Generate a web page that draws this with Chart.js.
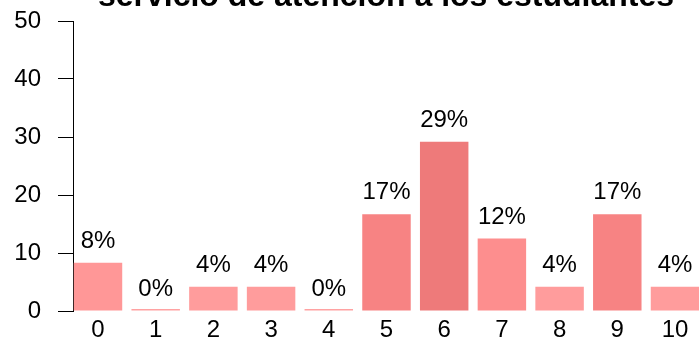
<!DOCTYPE html>
<html lang="es">
<head>
  <meta charset="UTF-8">
  <title>Satisfacción - servicio de atención a los estudiantes</title>
  <script src="https://cdn.jsdelivr.net/npm/chart.js"></script>
  <style>
    html, body { margin: 0; padding: 0; background: #fff; overflow: hidden; }
    .chart-box { position: relative; width: 699px; height: 337px; }
  </style>
</head>
<body>
  <div class="chart-box">
    <canvas id="barChart"></canvas>
  </div>

  <script>
    // Puntuaciones 0-10 y porcentaje de respuestas en cada una
    const categories = ['0', '1', '2', '3', '4', '5', '6', '7', '8', '9', '10'];
    const percents = [8.33, 0, 4.17, 4.17, 0, 16.67, 29.17, 12.5, 4.17, 16.67, 4.17];
    const yTicks = [0, 10, 20, 30, 40, 50];
    const titleText = 'servicio de atención a los estudiantes';

    // tono de cada barra (más oscuro cuanto más alto)
    const barColors = ['#ff9797', '#ffa2a2', '#ff9c9c', '#ff9c9c', '#ffa2a2', '#f78383',
                       '#ee7a7a', '#fd8e8e', '#ff9c9c', '#f78383', '#ff9c9c'];

    const FONT = '"Liberation Sans", Arial, Helvetica, sans-serif';

    // redondeo como en R (mitad al par): 12.5 -> 12
    function roundHalfEven(v) {
      const f = Math.floor(v);
      const d = v - f;
      if (Math.abs(d - 0.5) < 1e-9) return f % 2 === 0 ? f : f + 1;
      return Math.round(v);
    }

    // etiquetas de porcentaje encima de cada barra
    const pctLabels = {
      id: 'pctLabels',
      afterDatasetsDraw(chart) {
        const ctx = chart.ctx;
        const meta = chart.getDatasetMeta(0);
        const yScale = chart.scales.y;
        ctx.save();
        ctx.font = '24px ' + FONT;
        ctx.fillStyle = '#000';
        ctx.textAlign = 'center';
        ctx.textBaseline = 'alphabetic';
        meta.data.forEach((bar, i) => {
          const v = percents[i];
          ctx.fillText(roundHalfEven(v) + '%', bar.x, yScale.getPixelForValue(v) - 15);
        });
        ctx.restore();
      }
    };

    // título en negrita (la primera línea queda fuera del lienzo)
    const topTitle = {
      id: 'topTitle',
      afterDraw(chart) {
        const ctx = chart.ctx;
        ctx.save();
        ctx.font = 'bold 32px ' + FONT;
        ctx.fillStyle = '#000';
        ctx.textAlign = 'center';
        ctx.textBaseline = 'alphabetic';
        ctx.fillText(titleText, 386, 6);
        ctx.restore();
      }
    };

    new Chart(document.getElementById('barChart'), {
      type: 'bar',
      data: {
        datasets: [{
          data: percents.map((v, i) => ({ x: i, y: v })),
          backgroundColor: barColors,
          borderWidth: 0,
          minBarLength: 2,
          categoryPercentage: 1,
          barPercentage: 0.84
        }]
      },
      options: {
        responsive: true,
        maintainAspectRatio: false,
        animation: false,
        layout: { padding: { top: 21, right: 0, bottom: 0, left: 0 } },
        plugins: {
          legend: { display: false },
          tooltip: { enabled: false }
        },
        scales: {
          x: {
            type: 'linear',
            offset: false,
            min: -0.433,
            max: 10.416,
            grid: { display: false },
            border: { display: false },
            afterFit(scale) {
              scale.height = 26;
              scale.paddingLeft = 0;
              scale.paddingRight = 0;
            },
            ticks: {
              stepSize: 1,
              includeBounds: false,
              autoSkip: false,
              maxRotation: 0,
              padding: -3,
              color: '#000',
              font: { family: FONT, size: 24 },
              callback: (v) => categories[v] ?? ''
            }
          },
          y: {
            min: 0,
            max: 50,
            afterFit(scale) {
              scale.width = 73;
              scale.paddingTop = 0;
              scale.paddingBottom = 0;
            },
            afterBuildTicks(scale) { scale.ticks = yTicks.map(v => ({ value: v })); },
            grid: {
              drawOnChartArea: false,
              drawTicks: true,
              tickLength: 15,
              color: '#000',
              lineWidth: 1
            },
            border: { display: true, color: '#000', width: 1 },
            ticks: {
              padding: 17,
              color: '#000',
              font: { family: FONT, size: 24 }
            }
          }
        }
      },
      plugins: [pctLabels, topTitle]
    });
  </script>
</body>
</html>
